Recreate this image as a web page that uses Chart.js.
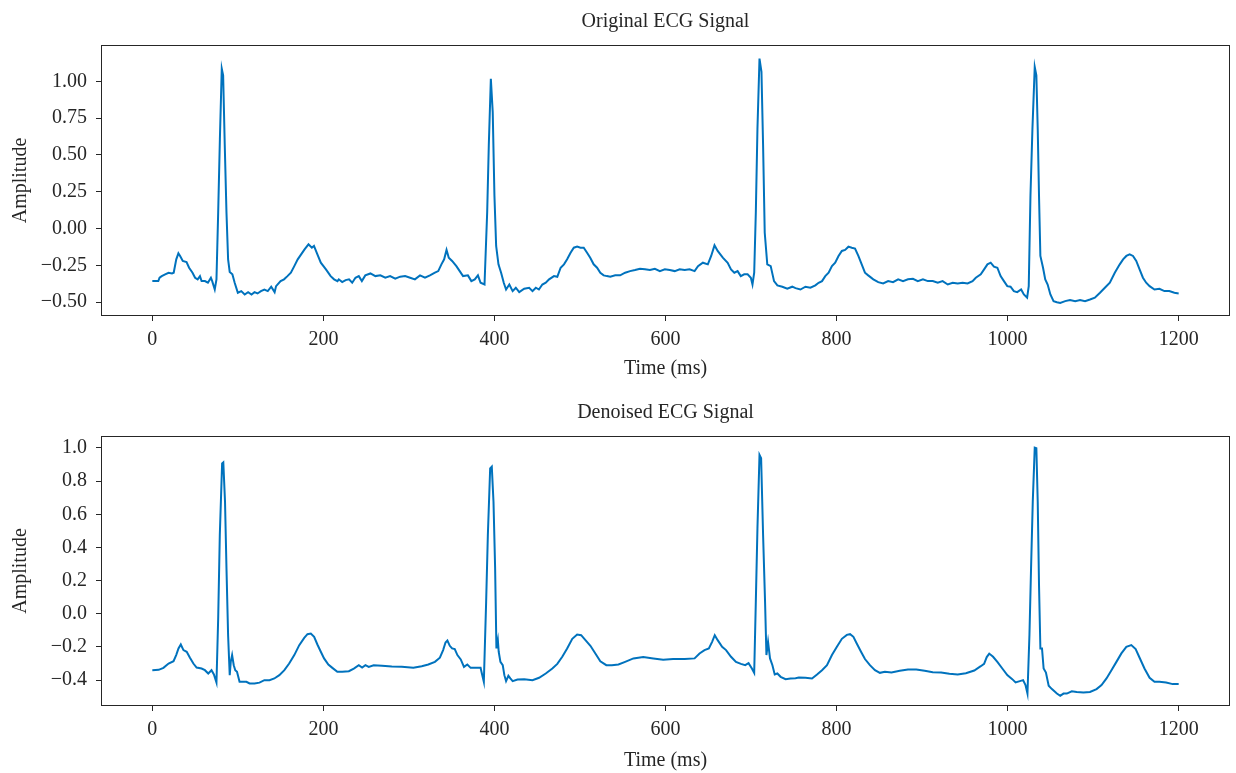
<!DOCTYPE html>
<html><head><meta charset="utf-8">
<script src="https://cdn.jsdelivr.net/npm/chart.js@4.4.1/dist/chart.umd.min.js"></script>
<style>
html,body{margin:0;padding:0;background:#fff;}
#wrap{position:relative;width:1236px;height:773px;overflow:hidden;}
canvas{position:absolute;left:0;}
</style></head><body>
<div id="wrap">
<canvas id="c1" width="1236" height="390" style="top:0px"></canvas>
<canvas id="c2" width="1236" height="383" style="top:390px"></canvas>
</div>
<script>
// [time (ms), amplitude]
const originalSignal = [
[0,-0.357],[7,-0.357],[8.5,-0.334],[11,-0.323],[15,-0.311],[19,-0.300],[23,-0.305],[25,-0.300],[28,-0.209],[30.5,-0.168],
[32.5,-0.186],[35.6,-0.220],[40,-0.227],[43,-0.266],[47,-0.300],[50,-0.334],[53,-0.345],[55.7,-0.323],[57.6,-0.357],[61.5,-0.357],
[65,-0.368],[68.5,-0.334],[70,-0.357],[73,-0.414],[75,-0.345],[77,0.109],[79,0.609],[81.2,1.086],[82.8,1.041],[84.7,0.564],
[86.7,0.109],[88.6,-0.209],[90.5,-0.295],[93.6,-0.311],[96.3,-0.368],[100,-0.436],[104,-0.425],[108,-0.448],[112,-0.432],[116,-0.448],
[119.5,-0.432],[123,-0.441],[127,-0.425],[131,-0.414],[135,-0.425],[139,-0.395],[143,-0.432],[144.7,-0.391],[150,-0.357],[154,-0.345],
[158,-0.323],[162,-0.300],[166,-0.255],[170,-0.209],[174,-0.175],[178,-0.141],[182.6,-0.107],[186.5,-0.130],[189,-0.118],[193,-0.175],
[197,-0.232],[203,-0.277],[208.5,-0.323],[212.5,-0.345],[216.5,-0.357],[218,-0.345],[222,-0.364],[226,-0.350],[230,-0.345],[233.7,-0.368],
[237.5,-0.334],[241.4,-0.323],[245,-0.357],[249,-0.318],[255,-0.305],[260.8,-0.323],[266.6,-0.318],[272.4,-0.334],[278,-0.323],[284,-0.341],
[289.8,-0.327],[295.6,-0.323],[301.4,-0.334],[307,-0.345],[313,-0.318],[318.8,-0.334],[324.6,-0.318],[330.4,-0.300],[334.3,-0.289],[338,-0.243],
[341.2,-0.209],[344,-0.145],[346.6,-0.198],[350.5,-0.220],[355.5,-0.255],[359.4,-0.289],[363.3,-0.323],[369,-0.318],[373,-0.357],[377,-0.345],
[380.7,-0.318],[383.8,-0.368],[388.4,-0.380],[391.5,0.109],[393.4,0.564],[395.8,1.018],[398,0.791],[400,0.223],[402,-0.118],[404.7,-0.243],
[407.8,-0.300],[410.9,-0.368],[413.6,-0.414],[417.4,-0.380],[421.3,-0.425],[425,-0.402],[429,-0.432],[434.8,-0.409],[440.6,-0.402],[444.5,-0.425],
[448.4,-0.402],[452,-0.414],[456,-0.380],[460,-0.368],[463.9,-0.345],[469.6,-0.323],[473.5,-0.328],[477.4,-0.266],[481.3,-0.243],[485,-0.209],
[489,-0.164],[492.8,-0.130],[496.7,-0.123],[500.6,-0.130],[504.4,-0.130],[508.3,-0.164],[512,-0.198],[516,-0.243],[520,-0.266],[523.8,-0.300],
[527.7,-0.318],[531.5,-0.323],[535.4,-0.327],[541.2,-0.318],[547,-0.318],[552.8,-0.300],[558.6,-0.289],[564.4,-0.282],[570.2,-0.273],[576,-0.277],
[581.8,-0.282],[587.6,-0.273],[593.4,-0.289],[599.2,-0.277],[605,-0.282],[610.8,-0.289],[616.6,-0.277],[622.4,-0.282],[628.2,-0.277],[634,-0.289],
[638,-0.255],[643.7,-0.232],[649.5,-0.243],[653.4,-0.186],[657.3,-0.114],[661,-0.152],[667,-0.198],[672.7,-0.232],[676.6,-0.277],[680.5,-0.300],
[684.3,-0.289],[688,-0.323],[692,-0.311],[696,-0.311],[699.8,-0.334],[701.7,-0.380],[703.7,-0.300],[705.6,0.109],[707.5,0.677],[709.9,1.155],
[712.2,1.064],[714.1,0.564],[716,-0.027],[719,-0.243],[723,-0.255],[726.9,-0.357],[730.8,-0.386],[736.6,-0.395],[742.4,-0.409],[748.2,-0.395],
[752,-0.405],[757.8,-0.414],[763.6,-0.395],[769.4,-0.402],[775.2,-0.386],[779,-0.368],[783,-0.357],[786.8,-0.323],[790.7,-0.300],[794.6,-0.255],
[798.4,-0.232],[802.3,-0.186],[806.2,-0.152],[810,-0.145],[813.9,-0.123],[817.8,-0.130],[821.6,-0.136],[825.5,-0.186],[829.4,-0.243],[833.2,-0.300],
[837,-0.318],[843,-0.345],[848.7,-0.364],[854.5,-0.373],[860.3,-0.357],[866,-0.364],[872,-0.345],[877.7,-0.357],[883.5,-0.345],[889.3,-0.341],
[895,-0.357],[901,-0.345],[906.7,-0.357],[912.5,-0.357],[918.3,-0.368],[924,-0.357],[930,-0.380],[935.8,-0.368],[941.6,-0.373],[947.4,-0.368],
[953.2,-0.373],[959,-0.357],[962.8,-0.334],[968.6,-0.311],[972.5,-0.277],[976.4,-0.243],[980.2,-0.232],[984,-0.259],[988,-0.266],[991.8,-0.323],
[995.7,-0.357],[999.6,-0.391],[1003.4,-0.395],[1007.3,-0.425],[1011.2,-0.432],[1015.8,-0.414],[1019,-0.448],[1022.8,-0.470],[1024.7,-0.391],[1026.7,0.223],
[1029,0.677],[1031.7,1.098],[1033.6,1.041],[1035.2,0.677],[1036.7,0.223],[1038.3,-0.186],[1041.4,-0.266],[1044,-0.345],[1046.8,-0.380],[1050,-0.448],
[1053.7,-0.493],[1057.6,-0.500],[1061.5,-0.505],[1067.3,-0.493],[1073,-0.486],[1079,-0.493],[1084.7,-0.486],[1090.5,-0.493],[1096.3,-0.482],[1102,-0.470],
[1108,-0.436],[1113.7,-0.402],[1119.5,-0.368],[1125.3,-0.300],[1131.1,-0.243],[1135,-0.209],[1138.8,-0.186],[1142.7,-0.175],[1146.6,-0.186],[1150.4,-0.220],
[1154.3,-0.277],[1158.2,-0.334],[1162,-0.368],[1166,-0.391],[1171.7,-0.414],[1177.5,-0.409],[1183.3,-0.425],[1189,-0.425],[1195,-0.436],[1200,-0.441]
];

const denoisedSignal = [
[0,-0.340],[7.4,-0.338],[13,-0.326],[19,-0.300],[24.8,-0.286],[27.9,-0.249],[30.6,-0.209],[33.3,-0.185],[36.4,-0.219],[40.2,-0.229],
[44,-0.265],[48,-0.300],[51.8,-0.324],[57.6,-0.330],[61.5,-0.340],[65.4,-0.360],[69.2,-0.340],[72,-0.366],[75,-0.415],[77,-0.028],
[78.9,0.475],[81.6,0.907],[83,0.913],[85,0.676],[86.7,0.274],[88.6,-0.129],[90.5,-0.370],[91.7,-0.290],[93.3,-0.249],[95.2,-0.310],
[97,-0.340],[99,-0.350],[102,-0.410],[106,-0.410],[110,-0.410],[113.7,-0.420],[119.5,-0.420],[125.3,-0.415],[131,-0.400],[137,-0.400],
[142.7,-0.390],[148.5,-0.370],[154.4,-0.340],[160,-0.300],[166,-0.249],[171.8,-0.189],[177.6,-0.145],[181.4,-0.123],[185.3,-0.119],[189.2,-0.139],
[193,-0.185],[197,-0.229],[200.8,-0.269],[205.8,-0.306],[210.5,-0.326],[216.3,-0.350],[222,-0.350],[229.8,-0.346],[235.6,-0.330],[241.4,-0.310],
[245.3,-0.324],[249.2,-0.310],[253,-0.320],[258.8,-0.310],[268.5,-0.314],[280,-0.318],[291.7,-0.320],[305.2,-0.326],[315,-0.316],[322.7,-0.306],
[330.4,-0.290],[336.2,-0.265],[340,-0.219],[342.8,-0.173],[345,-0.161],[347.8,-0.193],[350.5,-0.209],[353.6,-0.213],[356.7,-0.249],[360.6,-0.275],
[364.4,-0.320],[368.3,-0.306],[372.2,-0.326],[378.7,-0.326],[383.8,-0.326],[385.3,-0.360],[387.6,-0.410],[390.3,0.073],[392.3,0.475],[395,0.877],
[396.9,0.887],[398.9,0.676],[400.8,0.274],[402.3,-0.209],[404,-0.159],[405,-0.229],[407,-0.290],[409.7,-0.310],[411.6,-0.370],[413.6,-0.406],
[416.3,-0.374],[418.6,-0.390],[421.3,-0.406],[427,-0.396],[434.8,-0.394],[444.5,-0.400],[452.2,-0.386],[460,-0.360],[467.7,-0.330],[473.5,-0.302],
[479.3,-0.259],[485,-0.209],[491,-0.151],[496.7,-0.125],[501.4,-0.129],[506.4,-0.159],[512.2,-0.193],[518,-0.239],[523.8,-0.286],[530.8,-0.310],
[537.3,-0.310],[545,-0.306],[552.8,-0.290],[562.5,-0.269],[574,-0.261],[585.7,-0.269],[597.3,-0.277],[608.9,-0.273],[622.4,-0.273],[634,-0.269],
[639.8,-0.239],[645.6,-0.219],[650.7,-0.209],[654.5,-0.169],[657.6,-0.129],[661,-0.159],[666.2,-0.199],[670.8,-0.219],[676.6,-0.259],[682.4,-0.290],
[688.2,-0.302],[693.2,-0.310],[697.1,-0.298],[701,-0.330],[703.7,-0.356],[705.6,0.073],[707.5,0.515],[709.9,0.958],[711.8,0.938],[714.1,0.475],
[716.4,0.073],[718,-0.249],[719.9,-0.169],[722.2,-0.269],[725,-0.310],[727.7,-0.366],[730.8,-0.360],[734.6,-0.380],[740.4,-0.394],[746.2,-0.390],
[752,-0.388],[755.9,-0.384],[763.6,-0.386],[771.3,-0.390],[777.2,-0.366],[783,-0.340],[788.8,-0.310],[794.6,-0.249],[800.4,-0.199],[806.2,-0.151],
[812,-0.127],[815.8,-0.123],[819.7,-0.139],[823.6,-0.179],[828.6,-0.229],[833.2,-0.273],[839,-0.310],[844.9,-0.340],[850.7,-0.356],[856.5,-0.350],
[864.2,-0.354],[873.9,-0.344],[883.5,-0.336],[893.2,-0.336],[903,-0.344],[912.5,-0.352],[922.2,-0.354],[931.9,-0.362],[941.6,-0.366],[951.2,-0.358],
[961,-0.342],[968.6,-0.316],[972.5,-0.302],[975.6,-0.261],[978.5,-0.240],[983,-0.259],[988,-0.290],[993.8,-0.330],[999.6,-0.370],[1005.4,-0.394],
[1009.3,-0.414],[1014.3,-0.406],[1018.1,-0.400],[1020.9,-0.430],[1023.2,-0.481],[1025.5,-0.129],[1027.4,0.274],[1029.4,0.676],[1031.7,1.002],[1033.6,0.998],
[1035.2,0.676],[1036.7,0.173],[1038.3,-0.209],[1040.2,-0.209],[1042.1,-0.330],[1044.8,-0.354],[1048,-0.434],[1051.8,-0.454],[1057.6,-0.481],[1061.5,-0.495],
[1065.3,-0.481],[1069.2,-0.481],[1075,-0.467],[1080.8,-0.471],[1088.6,-0.475],[1096.3,-0.471],[1104,-0.454],[1109.8,-0.430],[1115.6,-0.390],[1121.4,-0.340],
[1127.2,-0.290],[1133,-0.239],[1138.8,-0.199],[1144.6,-0.189],[1149.7,-0.213],[1154.3,-0.265],[1160,-0.330],[1166,-0.386],[1171.7,-0.410],[1177.5,-0.410],
[1185.3,-0.414],[1193,-0.424],[1200,-0.424]
];

const xTickValues = [0, 200, 400, 600, 800, 1000, 1200];
const yTickValuesTop = [-0.5, -0.25, 0, 0.25, 0.5, 0.75, 1.0];
const yTickValuesBottom = [-0.4, -0.2, 0, 0.2, 0.4, 0.6, 0.8, 1.0];
const chartTitles = ['Original ECG Signal', 'Denoised ECG Signal'];
const xAxisTitle = 'Time (ms)';
const yAxisTitle = 'Amplitude';

const FONT = "'Liberation Serif', 'Times New Roman', serif";
const FS = 20;
const INK = '#262626';
const LINE = '#0072bd';

function fmt(v, d) {
  const s = Math.abs(v).toFixed(d);
  return (v < -1e-9 ? '\u2212' : '') + s;
}

const framePlugin = {
  id: 'frameTitle',
  afterDraw(chart, args, opts) {
    const {ctx, chartArea: a} = chart;
    ctx.save();
    ctx.strokeStyle = INK;
    ctx.lineWidth = 1;
    ctx.strokeRect(Math.round(a.left) + 0.5, Math.round(a.top) + 0.5,
                   Math.round(a.right - a.left) - 1, Math.round(a.bottom - a.top) - 1);
    ctx.fillStyle = INK;
    ctx.font = opts.size + 'px ' + FONT;
    ctx.textAlign = 'center';
    ctx.textBaseline = 'middle';
    ctx.fillText(opts.text, (a.left + a.right) / 2, opts.y);
    ctx.restore();
  }
};

function makeChart(id, signal, yTicks, dec, yMin, yMax, topPad, xAxisH, titleText, titleY, xTitlePad) {
  return new Chart(document.getElementById(id), {
    type: 'line',
    data: {
      datasets: [{
        data: signal.map(p => ({x: p[0], y: p[1]})),
        borderColor: LINE,
        borderWidth: 2,
        pointRadius: 0,
        tension: 0,
        fill: false
      }]
    },
    options: {
      responsive: false,
      animation: false,
      devicePixelRatio: 1,
      parsing: false,
      layout: {padding: {top: topPad, right: 6, bottom: 0, left: 0}},
      plugins: {
        legend: {display: false},
        tooltip: {enabled: false},
        frameTitle: {text: titleText, y: titleY, size: FS}
      },
      scales: {
        x: {
          type: 'linear',
          min: -60, max: 1260,
          afterBuildTicks: s => { s.ticks = xTickValues.map(v => ({value: v})); },
          afterFit: s => { s.height = xAxisH; },
          grid: {drawOnChartArea: false, drawTicks: true, tickLength: 5, tickColor: INK, lineWidth: 1},
          border: {display: false},
          ticks: {
            color: INK, font: {family: FONT, size: FS}, padding: 7, maxRotation: 0,
            callback: v => String(v)
          },
          title: {display: true, text: xAxisTitle, color: INK, font: {family: FONT, size: FS}, padding: {top: 0, bottom: xTitlePad}}
        },
        y: {
          type: 'linear',
          min: yMin, max: yMax,
          afterBuildTicks: s => { s.ticks = yTicks.map(v => ({value: v})); },
          afterFit: s => { s.width = 101; },
          grid: {drawOnChartArea: false, drawTicks: true, tickLength: 5, tickColor: INK, lineWidth: 1},
          border: {display: false},
          ticks: {
            color: INK, font: {family: FONT, size: FS}, padding: 9,
            callback: v => fmt(v, dec)
          },
          title: {display: true, text: yAxisTitle, color: INK, font: {family: FONT, size: FS}, padding: {top: 9, bottom: 0}}
        }
      }
    },
    plugins: [framePlugin]
  });
}

makeChart('c1', originalSignal, yTickValuesTop, 2, -0.594, 1.247, 45, 74, chartTitles[0], 22, 9);
makeChart('c2', denoisedSignal, yTickValuesBottom, 1, -0.556, 1.072, 46, 67, chartTitles[1], 23, 0);
</script>
</body></html>
